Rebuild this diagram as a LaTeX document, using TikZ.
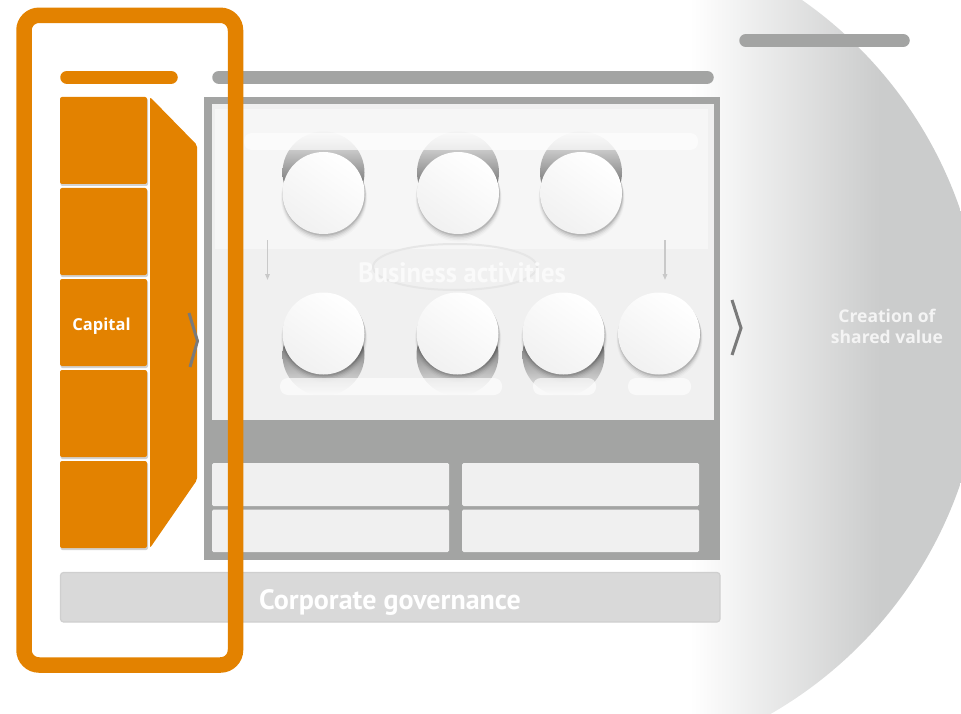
\documentclass[tikz,border=0pt]{standalone}
\usepackage{fontspec}
\setmainfont{PT Sans}
\newfontfamily\osans{Open Sans}
\usetikzlibrary{arrows.meta}
\definecolor{org}{HTML}{E38200}
\definecolor{frameg}{HTML}{A3A4A3}
\definecolor{innerg}{HTML}{F0F0F0}
\definecolor{toplt}{HTML}{F6F6F6}
\definecolor{cgbar}{HTML}{D9D9D9}
\definecolor{cgedge}{HTML}{CFCFCF}
\definecolor{circg}{HTML}{CBCCCC}
\definecolor{chev}{HTML}{7A7A7A}
\definecolor{holedark}{HTML}{3A3A3A}
\definecolor{holelt}{HTML}{F2F2F2}
\definecolor{discbot}{HTML}{F1F1F1}
\definecolor{arrg}{HTML}{C9C9C9}
\definecolor{cycg}{HTML}{E6E6E6}
\definecolor{bizw}{HTML}{FAFAFA}
\definecolor{crw}{HTML}{F4F4F4}
\tikzset{
  capbar/.style={line width=13.5pt, line cap=round},
  sq/.style={fill=org, rounded corners=2pt},
  sqshadow/.style={fill=black, opacity=0.18, rounded corners=2pt},
  chevline/.style={draw=chev, line width=3pt},
  lightbox/.style={fill=innerg, rounded corners=1.5pt},
  softbar/.style={fill=white, opacity=0.65, rounded corners=8pt},
  discnode/.style={circle, minimum size=82pt, inner sep=0pt, top color=white, bottom color=discbot, shading angle=-35},
  downarr/.style={draw=arrg, line width=1.4pt, -{Triangle[length=6pt,width=4.5pt]}},
}
\newcommand\myshadow[2]{%
  \foreach \dy/\rr/\op in {1.5/41.2/0.10, 2.5/41.6/0.07, 3.5/42.1/0.05, 4.5/42.6/0.03, 5.5/43.1/0.02}{%
    \fill[black, opacity=\op] (#1+0.6, #2+\dy) circle[radius=\rr pt];}%
}
\begin{document}
\begin{tikzpicture}[x=1pt,y=-1pt]
\useasboundingbox (0,0) rectangle (961,714);
\clip (0,0) rectangle (961,714);

% big value circle
\begin{scope}
  \clip (560,347) circle (423pt);
  \shade[left color=white, right color=circg] (690,0) rectangle (880,714);
  \fill[circg] (879.5,0) rectangle (961,714);
\end{scope}

% header bars
\draw[capbar, draw=org] (67,77.3) -- (171,77.3);
\draw[capbar, draw=frameg] (219,77.3) -- (707,77.3);
\draw[capbar, draw=frameg] (746,40.5) -- (903,40.5);

% capital squares
\foreach \y in {97,188,279,370,461}{
  \fill[sqshadow] (60.5,\y+1.5) rectangle (148,\y+89);
  \fill[sq] (60,\y) rectangle (147,\y+87);
}
\fill[org, rounded corners=2pt] (150,97) -- (197,145) -- (197,480) -- (150,548) -- cycle;
\node[font=\osans\bfseries\fontsize{16.5}{19}\selectfont, text=white, anchor=base, inner sep=0pt] (cap) at (101.5,330) {Capital};
\draw[chevline] (189,313) -- (197.5,341) -- (190,367);

% business activities frame
\fill[frameg] (204,97) rectangle (720,560);
\fill[innerg] (212,104) rectangle (714,420);
\fill[toplt] (215,109) rectangle (708,249);
\fill[lightbox] (212,463) rectangle (449,506);
\fill[lightbox] (462,463) rectangle (699,506);
\fill[lightbox] (212,509.5) rectangle (449,552);
\fill[lightbox] (462,509.5) rectangle (699,552);

% holes
\foreach \x in {323.5,458,581}{
  \shade[top color=holelt, bottom color=holedark] (\x,172.5) circle[radius=41pt];
}
\foreach \x in {323.5,457.5,563.5}{
  \shade[top color=holedark, bottom color=holelt] (\x,355) circle[radius=41pt];
}
\fill[softbar] (244,133) rectangle (698,150);

% cycle ellipse and arrows
\draw[cycg, line width=2pt] (455,267) ellipse [x radius=82pt, y radius=23pt];
\coordinate (a1s) at (267.5,240); \coordinate (a1e) at (267.5,280);
\coordinate (a2s) at (665,240);   \coordinate (a2e) at (665,280);
\draw[downarr] (a1s) -- (a1e);
\draw[downarr] (a2s) -- (a2e);

% discs
\myshadow{323.5}{193}\node[discnode] (t1) at (323.5,193) {};
\myshadow{458}{193}\node[discnode] (t2) at (458,193) {};
\myshadow{581}{193}\node[discnode] (t3) at (581,193) {};
\myshadow{323.5}{333.5}\node[discnode] (b1) at (323.5,333.5) {};
\myshadow{457.5}{333.5}\node[discnode] (b2) at (457.5,333.5) {};
\myshadow{563.5}{333.5}\node[discnode] (b3) at (563.5,333.5) {};
\myshadow{659}{333.5}\node[discnode] (b4) at (659,333.5) {};
\fill[softbar] (280,378) rectangle (502,395);
\fill[softbar] (533,378) rectangle (596,395);
\fill[softbar] (628,378) rectangle (691,395);

\node[font=\bfseries\fontsize{28}{30}\selectfont, text=bizw, anchor=base, inner sep=0pt] (ba) at (462,282) {\scalebox{0.95}[1]{Business activities}};

% right chevron and value text
\draw[chevline] (732,300) -- (741,328) -- (732,355);
\node[font=\osans\bfseries\fontsize{17.5}{21}\selectfont, text=crw, anchor=base, inner sep=0pt] (cr1) at (887,322) {Creation of};
\node[font=\osans\bfseries\fontsize{17.5}{21}\selectfont, text=crw, anchor=base, inner sep=0pt] (cr2) at (887,343) {shared value};

% corporate governance
\fill[cgbar, draw=cgedge, line width=1.2pt, rounded corners=3pt] (60.5,572.5) rectangle (720,622);
\node[font=\bfseries\fontsize{28}{30}\selectfont, text=white, anchor=base, inner sep=0pt] (cg) at (390,609) {Corporate governance};

% orange highlight frame
\draw[org, line width=15.5pt, rounded corners=15pt] (24,15.3) rectangle (235.5,665);
\end{tikzpicture}
\end{document}
